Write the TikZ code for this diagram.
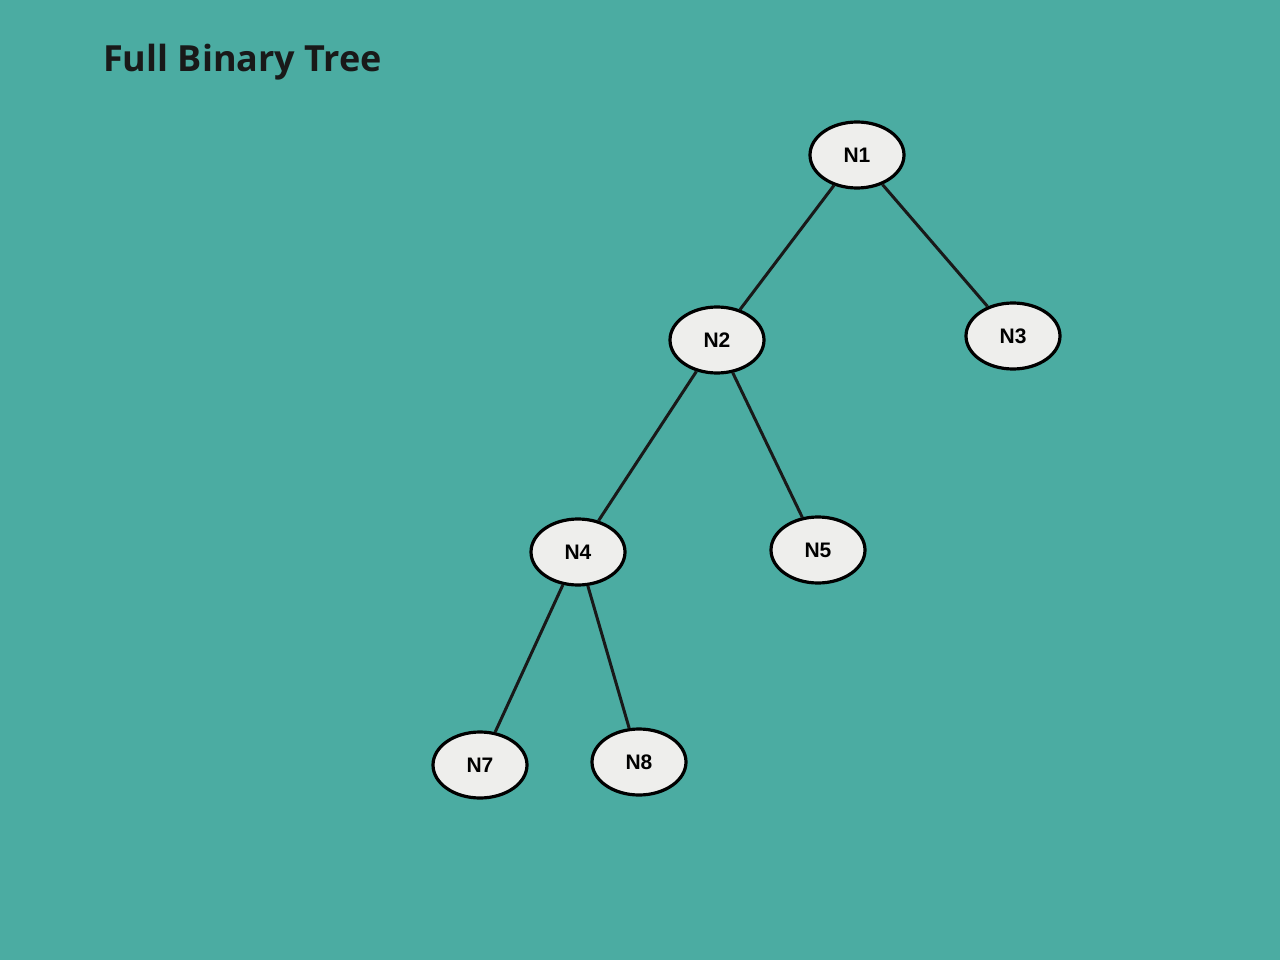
\documentclass[tikz,border=0pt]{standalone}
\usepackage{fontspec}
\setmainfont{Liberation Sans}
\newfontfamily\titlefont{Open Sans}
\usetikzlibrary{shapes.geometric}
\definecolor{bgteal}{HTML}{4BACA2}
\definecolor{nodefill}{HTML}{EEEEEC}
\tikzset{
  treenode/.style={ellipse, draw=black, line width=3.2pt, fill=nodefill,
    minimum width=94pt, minimum height=66pt, inner sep=0pt,
    font=\fontsize{21}{24}\selectfont\bfseries},
  treeedge/.style={line width=3pt, draw=black!90}
}
\begin{document}
\begin{tikzpicture}[x=1pt,y=-1pt]
\fill[bgteal] (0,0) rectangle (1280,960);
\useasboundingbox (0,0) rectangle (1280,960);
\node[anchor=west, inner sep=0pt, font=\titlefont\bfseries\fontsize{36}{40}\selectfont, text=black!90] (title) at (103,62) {Full Binary Tree};
\node[treenode] (n1) at (857,155) {N1};
\node[treenode] (n2) at (717,340) {N2};
\node[treenode] (n3) at (1013,336) {N3};
\node[treenode] (n4) at (578,552) {N4};
\node[treenode] (n5) at (818,550) {N5};
\node[treenode] (n7) at (480,765) {N7};
\node[treenode] (n8) at (639,762) {N8};
\draw[treeedge] (n1) -- (n2);
\draw[treeedge] (n1) -- (n3);
\draw[treeedge] (n2) -- (n4);
\draw[treeedge] (n2) -- (n5);
\draw[treeedge] (n4) -- (n7);
\draw[treeedge] (n4) -- (n8);
\end{tikzpicture}
\end{document}
